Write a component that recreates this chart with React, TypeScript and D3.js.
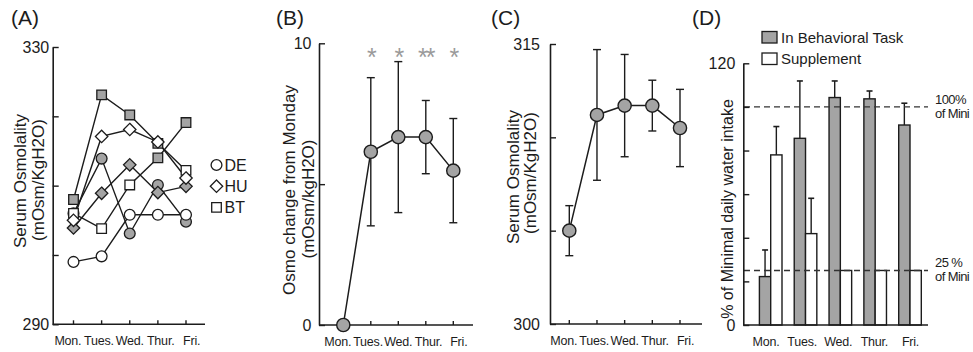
import React from "react";
import * as d3 from "d3";

const days = ["Mon.", "Tues.", "Wed.", "Thur.", "Fri."];

// (A) serum osmolality of each animal, mOsm/KgH2O
const deOpen = [299.0, 299.8, 305.8, 305.8, 305.8];
const deFilled = [306.0, 313.9, 303.1, 310.1, 304.8];
const huOpen = [305.0, 317.1, 318.1, 316.3, 311.1];
const huFilled = [303.9, 308.9, 313.0, 309.0, 309.9];
const btOpen = [306.0, 303.8, 310.1, 314.0, 319.1];
const btFilled = [308.0, 323.1, 320.2, 316.1, 312.2];
const legendA = ["DE", "HU", "BT"];
const ticksA = [290, 300, 310, 320, 330];

// (B) change from Monday, mean and sd
const changeMean = [0, 6.15, 6.67, 6.67, 5.48];
const changeSd = [0, 2.63, 2.68, 1.3, 1.85];
const changeStars = ["", "*", "*", "**", "*"];
const ticksB = [0, 5, 10];

// (C) group serum osmolality
const osmoMean = [305.0, 311.2, 311.7, 311.7, 310.5];
const osmoSd = [1.34, 3.5, 2.74, 1.36, 2.07];
const ticksC = [300, 305, 310, 315];

// (D) % of minimal daily water intake
const taskIntake = [22.2, 85.6, 104.3, 103.7, 91.7];
const taskErr = [12.2, 26.3, 7.6, 3.6, 10.0];
const suppIntake = [78.0, 41.9, 25, 25, 25];
const suppErr = [13.0, 16.2, 0, 0, 0];
const ticksD = [0, 20, 40, 60, 80, 100, 120];
const refLevels = [100, 25];
const refLabels = [["100%", "of Mini"], ["25 %", "of Mini"]];
const legendD = ["In Behavioral Task", "Supplement"];

const FONT = "'Liberation Sans', Arial, Helvetica, sans-serif";
const INK = "#1c1c1c";
const GREY = "#a4a4a4";

function shapePath(shape: string) {
    if (shape === "circle") return d3.symbol(d3.symbolCircle, Math.PI * 5.4 * 5.4)();
    if (shape === "square") return "M-4.8,-4.8H4.8V4.8H-4.8Z";
    return "M0,-6.2L6.2,0L0,6.2L-6.2,0Z";
}

function title(svg, txt, x) {
    svg.append("text")
        .attr("x", x)
        .attr("y", 25)
        .attr("fill", INK)
        .style("font-family", FONT)
        .style("font-size", "21px")
        .text(txt);
}

function yLabel(svg, lines, fs) {
    lines.forEach(([txt, bx, cy]) => {
        svg.append("text")
            .attr("transform", `translate(${bx},${cy}) rotate(-90)`)
            .attr("text-anchor", "middle")
            .attr("fill", INK)
            .style("font-family", FONT)
            .style("font-size", fs + "px")
            .text(txt);
    });
}

function yAxis(svg, y, x0, ticks, pad) {
    const lo = ticks[0];
    const hi = ticks[ticks.length - 1];
    const axis = d3
        .axisLeft(y)
        .tickValues(ticks)
        .tickSizeInner(-6)
        .tickSizeOuter(0)
        .tickPadding(pad)
        .tickFormat((d) => (d === lo || d === hi ? String(d) : ""));
    const a = svg.append("g").attr("transform", `translate(${x0},0)`).call(axis);
    a.select(".domain").attr("stroke", INK).attr("stroke-width", 1.6);
    a.selectAll(".tick line").attr("stroke", INK).attr("stroke-width", 1.4);
    a.selectAll(".tick text")
        .attr("fill", INK)
        .style("font-family", FONT)
        .style("font-size", "16px");
}

// labels in the source figure sit a little wider apart than the ticks
function labelScale(x, spread) {
    const [a, b] = x.range();
    const mid = (a + b) / 2;
    const half = ((b - a) / 2) * spread;
    return d3.scalePoint().domain(days).range([mid - half, mid + half]);
}

function xAxis(svg, x, x0, x1, yb, ticks, fs, lx) {
    svg.append("line")
        .attr("x1", x0)
        .attr("x2", x1)
        .attr("y1", yb)
        .attr("y2", yb)
        .attr("stroke", INK)
        .attr("stroke-width", 1.6);
    if (ticks) {
        svg.selectAll(null)
            .data(days)
            .enter()
            .append("line")
            .attr("x1", (d) => x(d))
            .attr("x2", (d) => x(d))
            .attr("y1", yb)
            .attr("y2", yb - 4)
            .attr("stroke", INK)
            .attr("stroke-width", 1.4);
    }
    svg.selectAll(null)
        .data(days)
        .enter()
        .append("text")
        .attr("x", (d) => lx(d))
        .attr("y", yb + 20.5)
        .attr("text-anchor", "middle")
        .attr("fill", INK)
        .style("font-family", FONT)
        .style("font-size", fs + "px")
        .style("letter-spacing", "-0.2px")
        .text((d) => d);
}

function meanPanel(svg, x, y, mean, sd) {
    const line = d3
        .line()
        .x((d, i) => x(days[i]))
        .y((d) => y(d));
    svg.append("path")
        .attr("d", line(mean))
        .attr("fill", "none")
        .attr("stroke", INK)
        .attr("stroke-width", 1.5);
    mean.forEach((m, i) => {
        if (sd[i] <= 0) return;
        const cx = x(days[i]);
        const g = svg.append("g").attr("stroke", INK).attr("stroke-width", 1.4);
        g.append("line").attr("x1", cx).attr("x2", cx).attr("y1", y(m - sd[i])).attr("y2", y(m + sd[i]));
        [m - sd[i], m + sd[i]].forEach((v) => {
            g.append("line").attr("x1", cx - 4).attr("x2", cx + 4).attr("y1", y(v)).attr("y2", y(v));
        });
    });
    svg.selectAll(null)
        .data(mean)
        .enter()
        .append("circle")
        .attr("cx", (d, i) => x(days[i]))
        .attr("cy", (d) => y(d))
        .attr("r", 6.6)
        .attr("fill", GREY)
        .attr("stroke", INK)
        .attr("stroke-width", 1.4);
}

function drawA(svg) {
    const x = d3.scalePoint().domain(days).range([73.5, 186]);
    const y = d3.scaleLinear().domain([290, 330]).range([324.3, 47]);

    const series = [
        { values: deFilled, shape: "circle", shaded: [1, 1, 1, 1, 1] },
        { values: deOpen, shape: "circle", shaded: [0, 0, 0, 0, 0] },
        { values: btOpen, shape: "square", shaded: [0, 0, 0, 1, 1] },
        { values: btFilled, shape: "square", shaded: [1, 1, 1, 1, 0] },
        { values: huFilled, shape: "diamond", shaded: [1, 1, 1, 1, 1] },
        { values: huOpen, shape: "diamond", shaded: [0, 0, 0, 0, 0] },
    ];

    const line = d3
        .line()
        .x((d, i) => x(days[i]))
        .y((d) => y(d));
    series.forEach((s) => {
        svg.append("path")
            .attr("d", line(s.values))
            .attr("fill", "none")
            .attr("stroke", INK)
            .attr("stroke-width", 1.4);
    });
    series.forEach((s) => {
        svg.selectAll(null)
            .data(s.values)
            .enter()
            .append("path")
            .attr("d", shapePath(s.shape))
            .attr("transform", (d, i) => `translate(${x(days[i])},${y(d)})`)
            .attr("fill", (d, i) => (s.shaded[i] ? GREY : "#fff"))
            .attr("stroke", INK)
            .attr("stroke-width", 1.3);
    });

    yAxis(svg, y, 52.7, ticksA, 3.5);
    xAxis(svg, x, 52.7, 205, 324.3, true, 12.5, labelScale(x, 1.1));

    const shapes = ["circle", "diamond", "square"];
    legendA.forEach((lab, i) => {
        const ly = 165 + i * 21.2;
        svg.append("path")
            .attr("d", shapePath(shapes[i]))
            .attr("transform", `translate(216.5,${ly})`)
            .attr("fill", "#fff")
            .attr("stroke", INK)
            .attr("stroke-width", 1.3);
        svg.append("text")
            .attr("x", 224.5)
            .attr("y", ly + 6)
            .attr("fill", INK)
            .style("font-family", FONT)
            .style("font-size", "16px")
            .text(lab);
    });

    yLabel(svg, [["Serum Osmolality", 26, 181], ["(mOsm/KgH2O)", 44, 180]], 17);
    title(svg, "(A)", 11);
}

function drawB(svg) {
    const x = d3.scalePoint().domain(days).range([343.3, 453.3]);
    const y = d3.scaleLinear().domain([0, 10]).range([325, 43.3]);

    yAxis(svg, y, 319, ticksB, 7.5);
    xAxis(svg, x, 319, 473, 325, true, 12.5, labelScale(x, 1.1));
    meanPanel(svg, x, y, changeMean, changeSd);

    svg.selectAll(null)
        .data(changeStars)
        .enter()
        .append("text")
        .attr("x", (d, i) => x(days[i]))
        .attr("y", 66)
        .attr("text-anchor", "middle")
        .attr("fill", "#9a9a9a")
        .style("font-family", FONT)
        .style("font-size", "25px")
        .style("letter-spacing", "-2px")
        .text((d) => d);

    yLabel(svg, [["Osmo change from Monday", 295, 190], ["(mOsm/kgH2O)", 313.5, 199]], 17);
    title(svg, "(B)", 276);
}

function drawC(svg) {
    const x = d3.scalePoint().domain(days).range([569.3, 680]);
    const y = d3.scaleLinear().domain([300, 315]).range([324, 44]);

    yAxis(svg, y, 550, ticksC, 10);
    xAxis(svg, x, 550, 702, 324, true, 12.5, labelScale(x, 1.1));
    meanPanel(svg, x, y, osmoMean, osmoSd);

    yLabel(svg, [["Serum Osmolality", 518.5, 177], ["(mOsm/KgH2O)", 536, 173]], 17);
    title(svg, "(C)", 491);
}

function drawD(svg) {
    const x = d3.scalePoint().domain(days).range([770.7, 910]);
    const sub = d3.scaleBand().domain(["task", "supp"]).range([-11.3, 11.3]);
    const y = d3.scaleLinear().domain([0, 120]).range([325, 63.3]);

    const groups = [
        { key: "task", values: taskIntake, err: taskErr, fill: GREY },
        { key: "supp", values: suppIntake, err: suppErr, fill: "#fff" },
    ];

    groups.forEach((grp) => {
        svg.selectAll(null)
            .data(grp.values)
            .enter()
            .append("rect")
            .attr("x", (d, i) => x(days[i]) + sub(grp.key))
            .attr("y", (d) => y(d))
            .attr("width", sub.bandwidth())
            .attr("height", (d) => y(0) - y(d))
            .attr("fill", grp.fill)
            .attr("stroke", INK)
            .attr("stroke-width", 1.4);
        grp.values.forEach((v, i) => {
            if (grp.err[i] <= 0) return;
            const cx = x(days[i]) + sub(grp.key) + sub.bandwidth() / 2;
            const top = y(v + grp.err[i]);
            svg.append("line").attr("x1", cx).attr("x2", cx).attr("y1", y(v)).attr("y2", top)
                .attr("stroke", INK).attr("stroke-width", 1.4);
            svg.append("line").attr("x1", cx - 3).attr("x2", cx + 3).attr("y1", top).attr("y2", top)
                .attr("stroke", INK).attr("stroke-width", 1.6);
        });
    });

    refLevels.forEach((lv, i) => {
        svg.append("line")
            .attr("x1", 744)
            .attr("x2", 928)
            .attr("y1", y(lv))
            .attr("y2", y(lv))
            .attr("stroke", "#333")
            .attr("stroke-width", 1.3)
            .attr("stroke-dasharray", "6,4");
        refLabels[i].forEach((t, j) => {
            svg.append("text")
                .attr("x", 935)
                .attr("y", y(lv) - 3 + j * 14)
                .attr("fill", INK)
                .style("font-family", FONT)
                .style("font-size", "13px")
                .style("letter-spacing", "-0.6px")
                .text(t);
        });
    });

    yAxis(svg, y, 743.3, ticksD, 8);
    const lx = d3.scalePoint().domain(days).range([766, 910.5]);
    xAxis(svg, x, 743.3, 928, 325, false, 12.5, lx);

    legendD.forEach((lab, i) => {
        svg.append("rect")
            .attr("x", 762)
            .attr("y", 31.5 + i * 21.5)
            .attr("width", 15)
            .attr("height", 11.5)
            .attr("fill", i === 0 ? GREY : "#fff")
            .attr("stroke", INK)
            .attr("stroke-width", 1.3);
        svg.append("text")
            .attr("x", 781)
            .attr("y", 42.8 + i * 21)
            .attr("fill", INK)
            .style("font-family", FONT)
            .style("font-size", "15px")
            .text(lab);
    });

    yLabel(svg, [["% of Minimal daily water intake", 733, 209]], 16);
    title(svg, "(D)", 692);
}

export default function App() {
    const ref = React.useRef(null);

    React.useEffect(() => {
        const svg = d3.select(ref.current);
        svg.selectAll("*").remove();
        drawA(svg);
        drawB(svg);
        drawC(svg);
        drawD(svg);
    }, []);

    return (
        <svg
            ref={ref}
            width={973}
            height={352}
            style={{ position: "absolute", left: 0, top: 0, background: "#fff" }}
        />
    );
}
